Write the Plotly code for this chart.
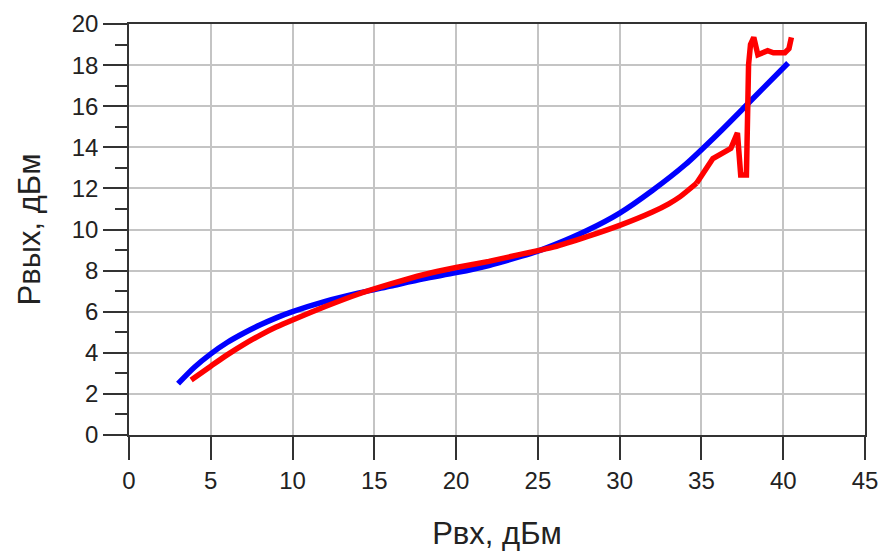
import plotly.graph_objects as go

# Blue curve (model)
blue_x = [3.0, 4.0, 5.0, 6.0, 7.0, 8.0, 9.0, 10.0, 12.0, 14.0, 16.0, 18.0, 20.0, 22.0, 24.0, 25.0,
          26.0, 28.0, 30.0, 32.0, 34.0, 36.0, 38.0, 40.3]
blue_y = [2.5, 3.3, 3.95, 4.5, 4.95, 5.35, 5.7, 6.0, 6.5, 6.9, 7.25, 7.6, 7.9, 8.25, 8.7, 8.95,
          9.25, 9.95, 10.8, 11.9, 13.15, 14.65, 16.25, 18.1]

# Red curve (measurement)
red_x = [3.8, 5.0, 6.0, 7.0, 8.0, 9.0, 10.0, 12.0, 14.0, 16.0, 18.0, 20.0, 22.0, 24.0, 25.0,
         26.0, 28.0, 30.0, 32.0, 33.0, 33.7, 34.7, 35.7, 36.8, 37.2, 37.4, 37.75, 37.82, 37.88,
         38.0, 38.2, 38.45, 38.8, 39.05, 39.4, 40.1, 40.35, 40.5]
red_y = [2.68, 3.35, 3.9, 4.4, 4.85, 5.25, 5.6, 6.25, 6.85, 7.35, 7.8, 8.15, 8.45, 8.8, 8.97,
         9.15, 9.65, 10.2, 10.85, 11.25, 11.6, 12.25, 13.45, 13.95, 14.7, 12.65, 12.65, 15.5, 18.0,
         19.0, 19.35, 18.5, 18.6, 18.7, 18.6, 18.6, 18.8, 19.35]
red_smooth_end = 21  # index where the smooth part of the red curve ends (x = 34.7)

x_ticks = [0, 5, 10, 15, 20, 25, 30, 35, 40, 45]
y_ticks = [0, 2, 4, 6, 8, 10, 12, 14, 16, 18, 20]

fig = go.Figure()
fig.add_trace(go.Scatter(x=blue_x, y=blue_y, mode="lines",
                         line=dict(color="#0000ff", width=5.5, shape="spline", smoothing=0.8),
                         showlegend=False))
fig.add_trace(go.Scatter(x=red_x[:red_smooth_end + 1], y=red_y[:red_smooth_end + 1], mode="lines",
                         line=dict(color="#ff0000", width=5.5, shape="spline", smoothing=0.6),
                         showlegend=False))
fig.add_trace(go.Scatter(x=red_x[red_smooth_end:], y=red_y[red_smooth_end:], mode="lines",
                         line=dict(color="#ff0000", width=5.5),
                         showlegend=False))

font_family = "Liberation Sans, Arial, sans-serif"
fig.update_layout(
    width=882, height=551,
    margin=dict(l=129, r=17, t=24, b=116),
    paper_bgcolor="white", plot_bgcolor="white",
    font=dict(family=font_family, color="#222222"),
)
fig.update_xaxes(
    range=[0, 45], tickvals=x_ticks, ticktext=[str(v) for v in x_ticks],
    automargin=False,
    showgrid=True, gridcolor="#c4c4c4", gridwidth=1.5,
    showline=True, linecolor="#333333", linewidth=1.5, mirror=True,
    ticks="outside", ticklen=23, tickwidth=1.5, tickcolor="#333333",
    tickfont=dict(size=24, family=font_family, color="#222222"),
    zeroline=False,
    title=dict(text="Рвх, дБм", font=dict(size=31, family=font_family, color="#222222"), standoff=36),
)
fig.update_yaxes(
    range=[0, 20], tickvals=y_ticks, ticktext=[str(v) for v in y_ticks],
    automargin=False,
    showgrid=True, gridcolor="#c4c4c4", gridwidth=1.5,
    showline=True, linecolor="#333333", linewidth=1.5, mirror=True,
    ticks="outside", ticklen=24, tickwidth=1.5, tickcolor="#333333",
    tickfont=dict(size=24, family=font_family, color="#222222"),
    minor=dict(dtick=1, tick0=0, ticks="outside", ticklen=12, tickwidth=1.5,
               tickcolor="#333333", showgrid=False),
    zeroline=False,
    title=dict(text="Рвых, дБм", font=dict(size=31, family=font_family, color="#222222"), standoff=22),
)

fig.write_html("out.html")
